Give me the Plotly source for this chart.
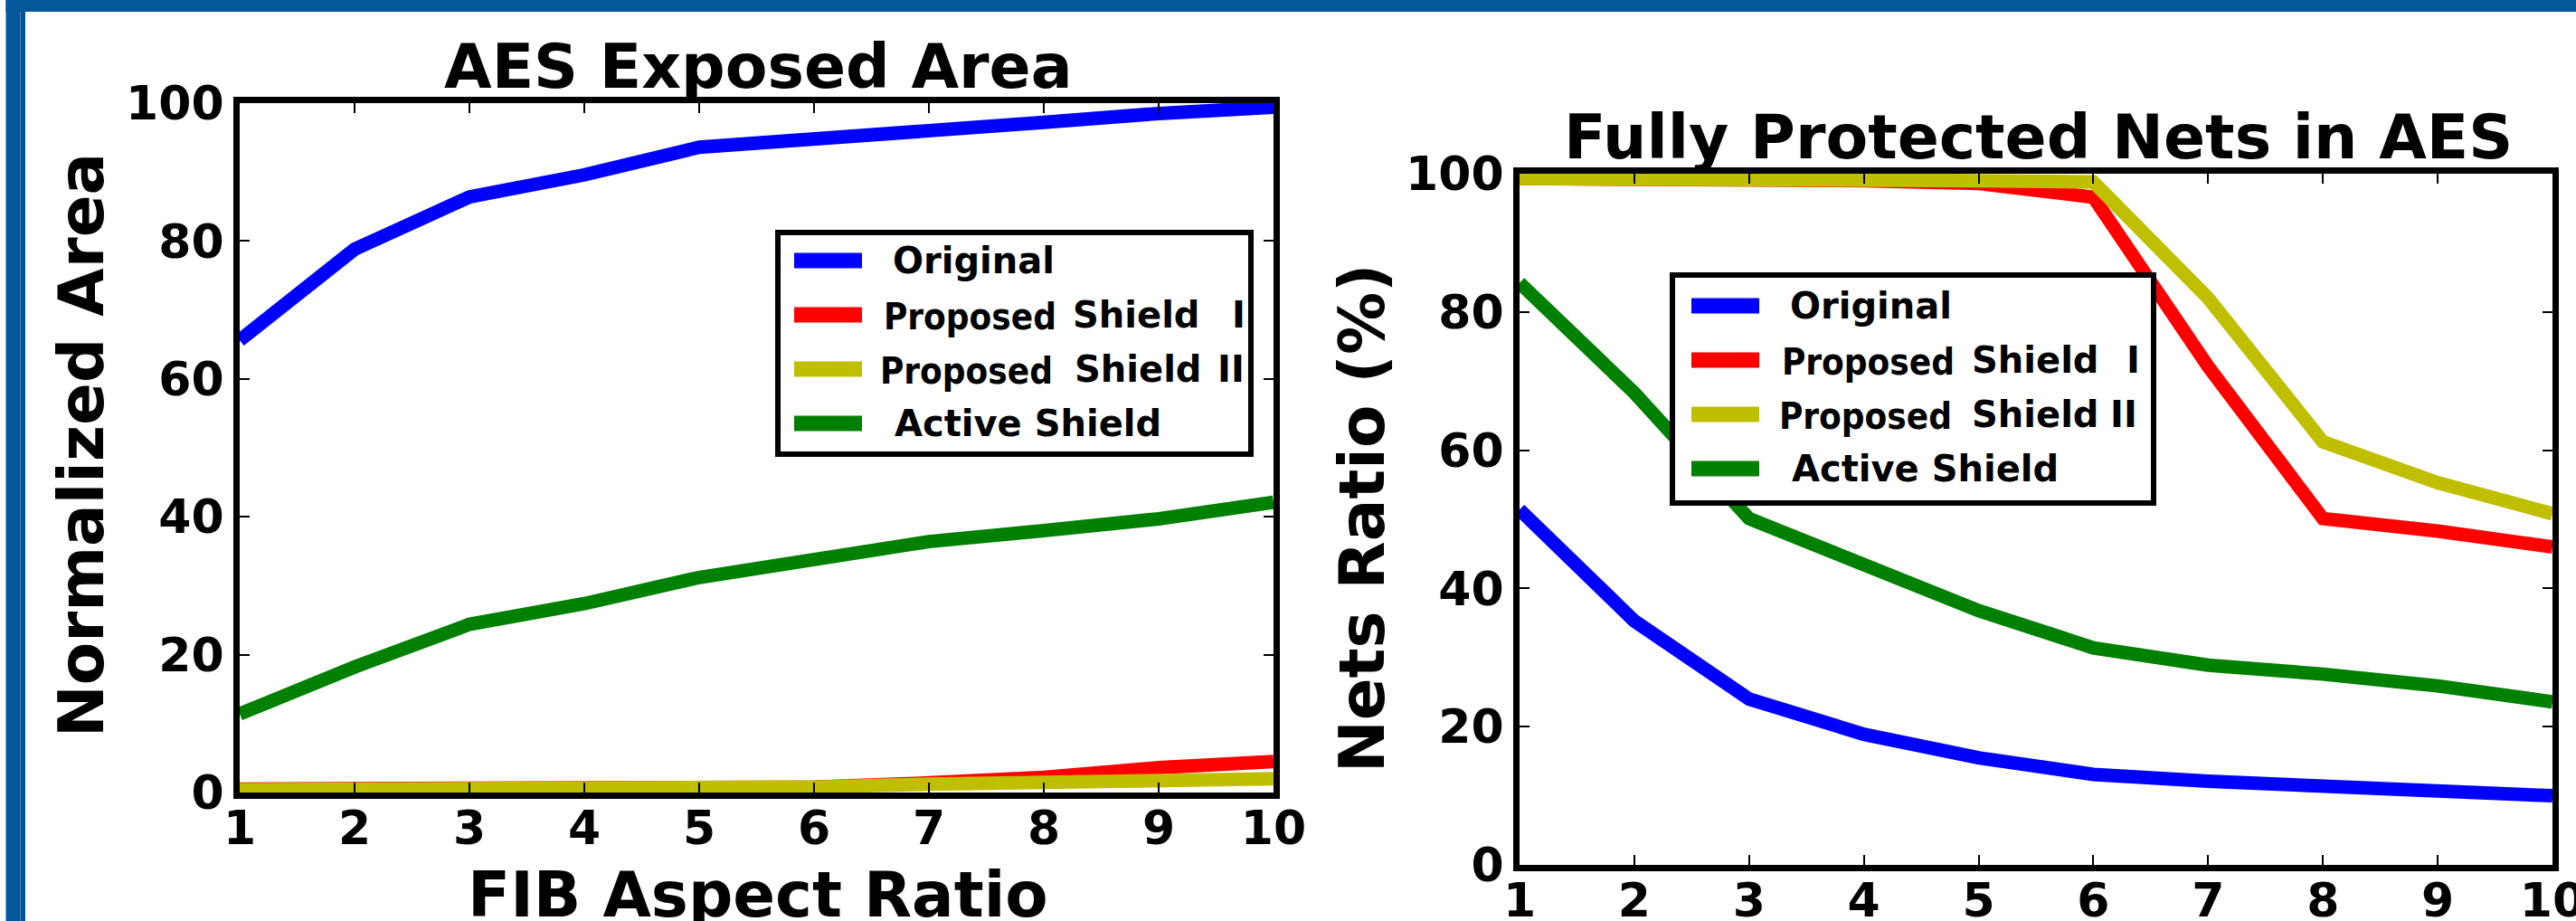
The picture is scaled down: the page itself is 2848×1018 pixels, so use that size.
import plotly.graph_objects as go

# ---------------- data ----------------
fib_aspect_ratio = [1, 2, 3, 4, 5, 6, 7, 8, 9, 10]
series_names = ["Original", "Proposed Shield I", "Proposed Shield II", "Active Shield"]
series_colors = ["#0000FF", "#FF0000", "#BFBF00", "#008000"]

# Left panel: AES Exposed Area (normalized area)
area_original = [65.6, 78.8, 86.4, 89.6, 93.6, 94.7, 96.2, 97.2, 98.5, 99.4]
area_shield_1 = [0.5, 0.5, 0.5, 0.5, 0.7, 0.8, 1.4, 2.2, 3.6, 4.5]
area_shield_2 = [0.4, 0.4, 0.4, 0.4, 0.7, 0.8, 1.2, 1.4, 1.7, 2.0]
area_active = [11.4, 18.2, 24.4, 27.4, 31.2, 33.6, 36.4, 38.0, 39.7, 42.1]

# Right panel: Fully Protected Nets in AES (%)
nets_original = [51.4, 35.3, 24.0, 18.9, 15.5, 13.1, 12.1, 11.4, 10.8, 10.0]
nets_shield_1 = [99.3, 99.3, 99.3, 99.0, 98.6, 96.6, 72.1, 50.1, 48.3, 46.0]
nets_shield_2 = [99.3, 99.3, 99.3, 99.3, 99.0, 98.8, 82.0, 61.2, 55.3, 50.8]
nets_active = [84.2, 68.3, 50.1, 43.6, 36.8, 31.4, 28.9, 27.6, 25.9, 23.6]

x_ticks = [1, 2, 3, 4, 5, 6, 7, 8, 9, 10]
y_ticks = [0, 20, 40, 60, 80, 100]

left_title = "AES Exposed Area"
right_title = "Fully Protected Nets in AES"
left_xlabel = "FIB Aspect Ratio"
left_ylabel = "Normalized Area"
right_ylabel = "Nets Ratio (%)"

# legend labels split into word pieces (as laid out in the original legend)
legend_pieces = [
    ["Original"],
    ["Proposed", "Shield", "I"],
    ["Proposed", "Shield", "II"],
    ["Active Shield"],
]

# ---------------- layout helpers ----------------
W, H = 2848, 1018


def px(x):
    return x / W


def py(y):
    return 1 - y / H


FONT = "DejaVu Sans"
COND_FONT = "DejaVu Sans Condensed, DejaVu Sans"
BLUE_FRAME = "#04579B"

fig = go.Figure()

left_series = [area_original, area_shield_1, area_shield_2, area_active]
right_series = [nets_original, nets_shield_1, nets_shield_2, nets_active]

for name, color, ys in zip(series_names, series_colors, left_series):
    fig.add_trace(go.Scatter(x=fib_aspect_ratio, y=ys, mode="lines", name=name,
                             line=dict(color=color, width=15), showlegend=False,
                             xaxis="x", yaxis="y"))
for name, color, ys in zip(series_names, series_colors, right_series):
    fig.add_trace(go.Scatter(x=fib_aspect_ratio, y=ys, mode="lines", name=name,
                             line=dict(color=color, width=15), showlegend=False,
                             xaxis="x2", yaxis="y2"))

axis_common = dict(
    showline=True, linewidth=7, linecolor="black", mirror="ticks",
    ticks="inside", ticklen=11, tickwidth=2, tickcolor="black",
    showgrid=False, zeroline=False, automargin=False,
    ticklabeloverflow="allow",
    tickfont=dict(family=FONT, size=52, color="black", weight="bold"),
)

fig.update_layout(
    width=W, height=H,
    margin=dict(l=0, r=0, t=0, b=0, pad=0, autoexpand=False),
    paper_bgcolor="white", plot_bgcolor="white",
    showlegend=False,
    xaxis=dict(domain=[px(265), px(1408)], range=[1, 10], tickvals=x_ticks,
               anchor="y", ticklabelstandoff=-12, **axis_common),
    yaxis=dict(domain=[py(876), py(114)], range=[0, 100], tickvals=y_ticks,
               anchor="x", **axis_common),
    xaxis2=dict(domain=[px(1680), px(2822)], range=[1, 10], tickvals=x_ticks,
                anchor="y2", ticklabelstandoff=-12, **axis_common),
    yaxis2=dict(domain=[py(956), py(192)], range=[0, 100], tickvals=y_ticks,
                anchor="x2", **axis_common),
)

shapes = []
annotations = []

# blue slide frame
shapes.append(dict(type="rect", xref="paper", yref="paper",
                   x0=px(6.5), x1=px(28), y0=0, y1=1,
                   fillcolor=BLUE_FRAME, line=dict(width=0), layer="above"))
shapes.append(dict(type="rect", xref="paper", yref="paper",
                   x0=px(6.5), x1=1, y0=py(13), y1=1,
                   fillcolor=BLUE_FRAME, line=dict(width=0), layer="above"))
shapes.append(dict(type="line", xref="paper", yref="paper",
                   x0=px(22.5), x1=px(22.5), y0=0, y1=py(13),
                   line=dict(color="#4C82B6", width=1), layer="above"))

# titles and axis labels
title_font = dict(family=FONT, size=68, color="black", weight="bold")
label_font = dict(family=FONT, size=69, color="black", weight="bold")
annotations.append(dict(text=left_title, x=px(838), y=py(73), xref="paper", yref="paper",
                        xanchor="center", yanchor="middle", showarrow=False, font=title_font))
annotations.append(dict(text=right_title, x=px(2253), y=py(152), xref="paper", yref="paper",
                        xanchor="center", yanchor="middle", showarrow=False, font=title_font))
annotations.append(dict(text=left_xlabel, x=px(838), y=py(989), xref="paper", yref="paper",
                        xanchor="center", yanchor="middle", showarrow=False, font=label_font))
annotations.append(dict(text=left_ylabel, x=px(90), y=py(492), xref="paper", yref="paper",
                        xanchor="center", yanchor="middle", textangle=-90,
                        showarrow=False, font=label_font))
annotations.append(dict(text=right_ylabel, x=px(1506), y=py(573), xref="paper", yref="paper",
                        xanchor="center", yanchor="middle", textangle=-90,
                        showarrow=False, font=label_font))

# legends (box, swatches, labels)
legend_font = dict(family=FONT, size=40, color="black", weight="bold")
legend_font_cond = dict(family=COND_FONT, size=40, color="black", weight="bold")


def add_legend(box, sw_x, row_y, piece_x):
    bx0, by0, bx1, by1 = box
    shapes.append(dict(type="rect", xref="paper", yref="paper",
                       x0=px(bx0 + 3), x1=px(bx1 - 3),
                       y0=py(by1 - 3), y1=py(by0 + 3),
                       fillcolor="white", line=dict(color="black", width=6), layer="above"))
    for color, pieces, ry, xs in zip(series_colors, legend_pieces, row_y, piece_x):
        shapes.append(dict(type="line", xref="paper", yref="paper",
                           x0=px(sw_x[0]), x1=px(sw_x[1]), y0=py(ry), y1=py(ry),
                           line=dict(color=color, width=17), layer="above"))
        for piece, tx in zip(pieces, xs):
            f = legend_font_cond if piece == "Proposed" else legend_font
            dy = 2 if piece == "Proposed" else 0
            annotations.append(dict(text=piece, x=px(tx - 3), y=py(ry + dy),
                                    xref="paper", yref="paper",
                                    xanchor="left", yanchor="middle", showarrow=False,
                                    font=f))


add_legend((857, 254, 1386, 505), (878, 953), [288, 348, 408, 468],
           [[988], [978, 1187, 1363], [974, 1189, 1347], [990]])
add_legend((1846, 301, 2384, 559), (1870, 1945), [338, 398, 458, 518],
           [[1980], [1971, 2181, 2352], [1968, 2181, 2334], [1982]])

fig.update_layout(shapes=shapes, annotations=annotations)

fig.write_html("out.html",
               config={"displayModeBar": False},
               post_script="document.body.style.margin='0';document.body.style.overflow='hidden';")
